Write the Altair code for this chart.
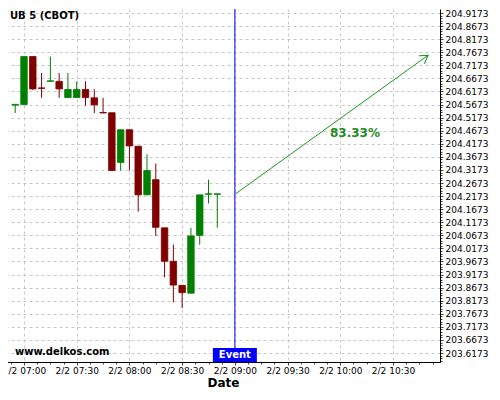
import altair as alt
import pandas as pd

# ---------------- data ----------------
DAY = "2024-02-02T"
times = ["06:55", "07:00", "07:05", "07:10", "07:15", "07:20", "07:25", "07:30",
         "07:35", "07:40", "07:45", "07:50", "07:55", "08:00", "08:05", "08:10",
         "08:15", "08:20", "08:25", "08:30", "08:35", "08:40", "08:45", "08:50"]
opens = [204.565, 204.567, 204.751, 204.631, 204.656, 204.656, 204.594, 204.594,
         204.625, 204.593, 204.537, 204.536, 204.346, 204.471, 204.408, 204.222,
         204.280, 204.096, 203.968, 203.876, 203.846, 204.067, 204.224, 204.224]
highs = [204.568, 204.751, 204.751, 204.688, 204.751, 204.688, 204.688, 204.656,
         204.656, 204.626, 204.593, 204.536, 204.471, 204.471, 204.408, 204.377,
         204.342, 204.096, 204.032, 203.876, 204.096, 204.222, 204.280, 204.226]
lows = [204.535, 204.567, 204.623, 204.593, 204.654, 204.593, 204.593, 204.593,
        204.563, 204.534, 204.534, 204.313, 204.315, 204.315, 204.158, 204.222,
        204.065, 203.907, 203.811, 203.789, 203.844, 204.031, 204.189, 204.096]
closes = [204.568, 204.751, 204.627, 204.629, 204.658, 204.627, 204.625, 204.625,
          204.594, 204.566, 204.535, 204.315, 204.471, 204.409, 204.222, 204.315,
          204.098, 203.968, 203.877, 203.848, 204.065, 204.222, 204.226, 204.226]

event_time = "09:00"
arrow_times = ["09:00", "10:50"]
arrow_values = [204.224, 204.756]
prob_label = "83.33%"
prob_time = "10:08:20"
prob_value = 204.459

title_text = "UB 5 (CBOT)"
site_text = "www.delkos.com"
event_text = "Event"

y_domain = [203.5829, 204.9326]
y_base = 203.6173
x_domain = ("06:52:36", "10:53:54")

# ---------------- helpers ----------------
def dt(hms):
    parts = [int(p) for p in hms.split(":")]
    while len(parts) < 3:
        parts.append(0)
    return alt.DateTime(year=2024, month=2, date=2, hours=parts[0],
                        minutes=parts[1], seconds=parts[2])

candles = pd.DataFrame({
    "t": [DAY + t + ":00" for t in times],
    "open": opens, "high": highs, "low": lows, "close": closes,
})
candles["dir"] = ["up" if c >= o else "down" for o, c in zip(opens, closes)]

arrow = pd.DataFrame({"t": [DAY + t + ":00" for t in arrow_times], "v": arrow_values})
arrow_head = arrow.tail(1)

# minor / major ticks
x_ticks = []
sec = 6 * 3600 + 52 * 60 + 30
while sec <= 10 * 3600 + 52 * 60 + 30:
    h, r = divmod(sec, 3600)
    m, s = divmod(r, 60)
    x_ticks.append(alt.DateTime(year=2024, month=2, date=2, hours=h, minutes=m, seconds=s))
    sec += 450
y_ticks = [round(y_base + 0.01 * k, 4) for k in range(-3, 131)]

MAJOR_X = "minutes(datum.value) % 30 == 0 && seconds(datum.value) == 0"
MAJOR_Y = "abs((datum.value - 203.6173) / 0.05 - round((datum.value - 203.6173) / 0.05)) < 0.001"

GREEN = "#008000"
RED = "#800000"
FONT = "DejaVu Sans"

W, H = 434, 353

x_enc = alt.X(
    "t:T",
    scale=alt.Scale(domain=[dt(x_domain[0]), dt(x_domain[1])]),
    axis=alt.Axis(
        values=x_ticks, tickCount=500,
        labelExpr="(" + MAJOR_X + ") ? timeFormat(datum.value, '%-m/%-d %H:%M') : ''",
        tickSize={"condition": {"test": MAJOR_X, "value": 3}, "value": 2},
        gridOpacity={"condition": {"test": MAJOR_X, "value": 1}, "value": 0},
        gridDash=[3, 3], gridColor="#c8c8c8", gridWidth=1,
        domainColor="black", tickColor="#444444",
        labelFont=FONT, labelFontSize=9, labelColor="black",
        labelOverlap=False, labelBound=False, labelFlush=False, labelPadding=1,
        title="Date", titleFont=FONT, titleFontSize=12, titleFontWeight="bold",
        titleColor="black", titlePadding=2,
    ),
)
y_enc_axis = alt.Axis(
    orient="right",
    values=y_ticks, tickCount=500,
    labelExpr="(" + MAJOR_Y + ") ? format(datum.value, '.4f') : ''",
    tickSize={"condition": {"test": MAJOR_Y, "value": 3}, "value": 2},
    gridOpacity={"condition": {"test": MAJOR_Y, "value": 1}, "value": 0},
    gridDash=[3, 3], gridColor="#c8c8c8", gridWidth=1,
    domainColor="black", tickColor="#444444",
    labelFont=FONT, labelFontSize=9, labelColor="black",
    labelOverlap=False, labelBound=False, labelFlush=False, labelPadding=2,
    title=None,
)
y_scale = alt.Scale(domain=y_domain, nice=False, zero=False)

color_scale = alt.Scale(domain=["up", "down"], range=[GREEN, RED])

base = alt.Chart(candles)

wicks = base.mark_rule(strokeWidth=1).encode(
    x=x_enc,
    y=alt.Y("low:Q", scale=y_scale, axis=y_enc_axis),
    y2="high:Q",
    color=alt.Color("dir:N", scale=color_scale, legend=None),
)

bodies = base.mark_bar(size=6.5, strokeWidth=0.8).encode(
    x="t:T",
    y="open:Q",
    y2="close:Q",
    color=alt.Color("dir:N", scale=color_scale, legend=None),
    stroke=alt.Stroke("dir:N", scale=color_scale, legend=None),
)

event_rule = alt.Chart(pd.DataFrame({"t": [DAY + event_time + ":00"]})).mark_rule(
    color="#0000ee", strokeWidth=1
).encode(x="t:T")

arrow_line = alt.Chart(arrow).mark_line(color="#1e961e", strokeWidth=1).encode(
    x="t:T", y="v:Q"
)
arrow_tip = alt.Chart(arrow_head).mark_point(
    shape="M-1,-0.6L0,0L-1,0.6", filled=False, color="#1e961e",
    strokeWidth=1, size=256, angle=325, opacity=1,
).encode(x="t:T", y="v:Q")

prob = alt.Chart(pd.DataFrame({"t": [DAY + prob_time], "v": [prob_value], "s": [prob_label]})).mark_text(
    font=FONT, fontSize=12, fontWeight="bold", color="#1e8c1e", align="center", baseline="middle"
).encode(x="t:T", y="v:Q", text="s:N")

event_box = alt.Chart(pd.DataFrame({"t": [DAY + event_time + ":00"]})).mark_rect(
    color="#0000ff", xOffset=-22, x2Offset=22
).encode(x="t:T", x2="t:T", y=alt.value(H - 14), y2=alt.value(H))

event_label = alt.Chart(pd.DataFrame({"t": [DAY + event_time + ":00"], "s": [event_text]})).mark_text(
    font=FONT, fontSize=10, fontWeight="bold", color="white", align="center", baseline="middle"
).encode(x="t:T", y=alt.value(H - 7), text="s:N")

title_mark = alt.Chart(pd.DataFrame({"s": [title_text]})).mark_text(
    font=FONT, fontSize=10, fontWeight="bold", color="black", align="left", baseline="middle"
).encode(x=alt.value(4), y=alt.value(7), text="s:N")

site_mark = alt.Chart(pd.DataFrame({"s": [site_text]})).mark_text(
    font=FONT, fontSize=10, fontWeight="bold", color="black", align="left", baseline="middle"
).encode(x=alt.value(9), y=alt.value(H - 10), text="s:N")

chart = alt.layer(
    wicks, bodies, event_rule, arrow_line, arrow_tip, prob,
    event_box, event_label, title_mark, site_mark,
).properties(
    width=W, height=H,
    autosize=alt.AutoSizeParams(type="none"),
    padding={"left": -2, "top": 1, "right": 52, "bottom": 30},
    background="white",
).configure_view(strokeWidth=0)

chart.save("out.html", embed_options={"renderer": "svg", "actions": False})
